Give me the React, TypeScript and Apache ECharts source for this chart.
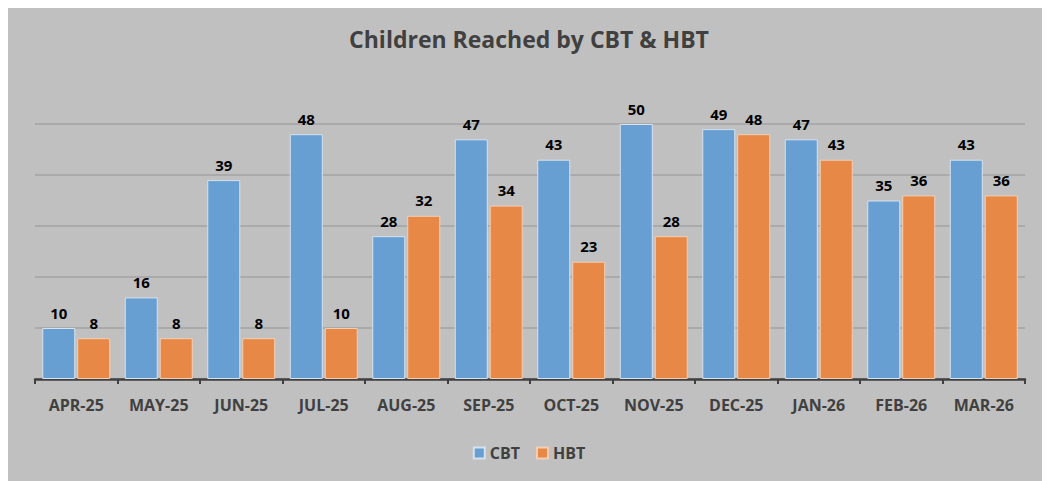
import React, { useEffect, useRef } from "react";
import * as echarts from "echarts";

const categories = ["APR-25", "MAY-25", "JUN-25", "JUL-25", "AUG-25", "SEP-25", "OCT-25", "NOV-25", "DEC-25", "JAN-26", "FEB-26", "MAR-26"];
const cbt = [10, 16, 39, 48, 28, 47, 43, 50, 49, 47, 35, 43];
const hbt = [8, 8, 8, 10, 32, 34, 23, 28, 48, 43, 36, 36];

const FONT = "'Open Sans', 'DejaVu Sans', sans-serif";

export default function App() {
  const ref = useRef<HTMLDivElement>(null);
  useEffect(() => {
    if (!ref.current) return;
    const chart = echarts.init(ref.current, undefined, { renderer: "svg" });
    const label = {
      show: true,
      position: "top" as const,
      distance: 8,
      color: "#000000",
      fontWeight: "bold" as const,
      fontSize: 15,
      fontFamily: FONT,
    };
    chart.setOption({
      animation: false,
      backgroundColor: "#c0c0c0",
      title: {
        text: "Children Reached by CBT & HBT",
        left: "center",
        top: 16,
        textStyle: { color: "#404040", fontSize: 23, fontWeight: "bold", fontFamily: FONT },
      },
      legend: {
        bottom: 15,
        left: "center",
        itemWidth: 11,
        itemHeight: 11,
        itemGap: 16,
        icon: "rect",
        textStyle: { color: "#404040", fontSize: 16, fontWeight: "bold", fontFamily: FONT },
        data: ["CBT", "HBT"],
      },
      grid: { left: 27, right: 25, top: 118, bottom: 102, containLabel: false },
      xAxis: {
        type: "category",
        data: categories,
        axisLine: { show: true, lineStyle: { color: "#404040", width: 2.5 } },
        axisTick: { show: true, length: 5, lineStyle: { color: "#404040", width: 2 } },
        axisLabel: { color: "#404040", fontWeight: "bold", fontSize: 16, fontFamily: FONT, margin: 18 },
      },
      yAxis: {
        type: "value",
        min: 0,
        max: 50,
        interval: 10,
        axisLabel: { show: false },
        axisLine: { show: false },
        axisTick: { show: false },
        splitLine: { lineStyle: { color: "#a3a3a3", width: 1.5 } },
      },
      series: [
        {
          name: "CBT",
          type: "bar",
          data: cbt,
          barWidth: 33,
          barGap: "6%",
          itemStyle: { color: "#679fd3", borderColor: "#d6e2ee", borderWidth: 1 },
          label,
        },
        {
          name: "HBT",
          type: "bar",
          data: hbt,
          barWidth: 33,
          barGap: "6%",
          itemStyle: { color: "#e78846", borderColor: "#f2cfb4", borderWidth: 1 },
          label,
        },
      ],
    });
    return () => chart.dispose();
  }, []);
  return <div ref={ref} style={{ width: 1042, height: 475, marginTop: -2 }} />;
}
